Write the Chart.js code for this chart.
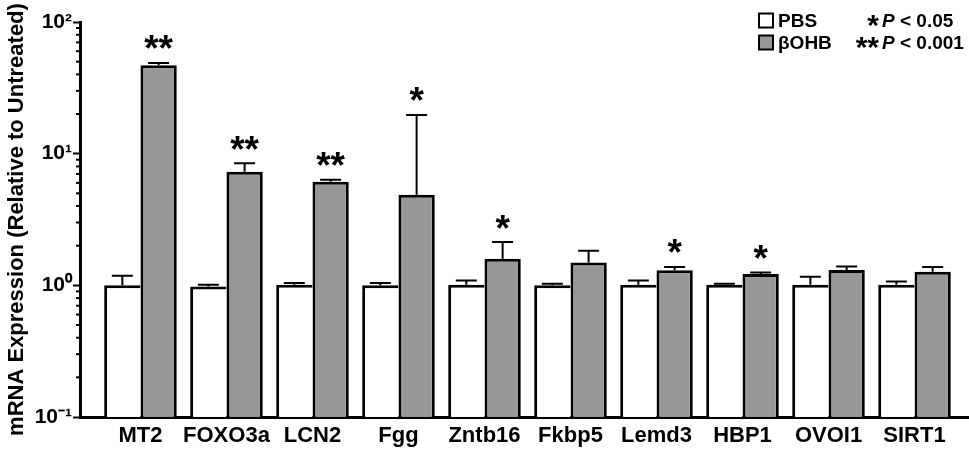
<!DOCTYPE html>
<html>
<head>
<meta charset="utf-8">
<script src="https://cdn.jsdelivr.net/npm/chart.js@4/dist/chart.umd.min.js"></script>
<style>
  html, body { margin: 0; padding: 0; background: #fff; }
  #wrap { width: 969px; height: 455px; position: relative; }
</style>
</head>
<body>
<div id="wrap"><canvas id="c"></canvas></div>
<script>
// ---- data ----
const categories = ['MT2', 'FOXO3a', 'LCN2', 'Fgg', 'Zntb16', 'Fkbp5', 'Lemd3', 'HBP1', 'OVOI1', 'SIRT1'];
const pbsMean   = [1.00, 0.98, 1.01, 1.00, 1.01, 1.00, 1.01, 1.01, 1.01, 1.01];
const pbsUpper  = [1.18, 1.01, 1.04, 1.04, 1.09, 1.03, 1.09, 1.03, 1.16, 1.07];
const ohbMean   = [46.9, 7.30, 6.12, 4.88, 1.59, 1.49, 1.30, 1.22, 1.31, 1.27];
const ohbUpper  = [48.9, 8.44, 6.35, 19.7, 2.13, 1.83, 1.38, 1.25, 1.39, 1.38];
const significance = ['**', '**', '**', '*', '*', '', '*', '*', '', ''];
const yTickValues = [0.1, 1, 10, 100];
const yTickLabels = ['10\u207B\u00B9', '10\u2070', '10\u00B9', '10\u00B2'];
const seriesNames = ['PBS', '\u03B2OHB'];
const legendNotes = [['*', ' < 0.05'], ['**', ' < 0.001']];

const FONT = '"Liberation Sans", Arial, Helvetica, sans-serif';
const GRAY = '#979797';

const pts = arr => arr.map((v, i) => ({ x: i, y: v }));

function starOffset(ctx) {
  const m = ctx.measureText('*');
  return (m.actualBoundingBoxAscent - m.actualBoundingBoxDescent) / 2;
}

const errorBars = {
  id: 'errorBars',
  afterDatasetsDraw(chart) {
    const ctx = chart.ctx;
    const ys = chart.scales.y;
    const uppers = [pbsUpper, ohbUpper];
    ctx.save();
    ctx.strokeStyle = '#000';
    ctx.lineWidth = 2;
    chart.data.datasets.forEach((ds, di) => {
      const meta = chart.getDatasetMeta(di);
      meta.data.forEach((el, i) => {
        const yTop = ys.getPixelForValue(uppers[di][i]);
        ctx.beginPath();
        ctx.moveTo(el.x, el.y);
        ctx.lineTo(el.x, yTop);
        ctx.moveTo(el.x - 10.5, yTop);
        ctx.lineTo(el.x + 10.5, yTop);
        ctx.stroke();
      });
    });
    // significance stars
    const meta = chart.getDatasetMeta(1);
    ctx.fillStyle = '#000';
    ctx.font = 'bold 37px ' + FONT;
    ctx.textAlign = 'center';
    ctx.textBaseline = 'alphabetic';
    const off = starOffset(ctx);
    meta.data.forEach((el, i) => {
      if (!significance[i]) return;
      const cy = ys.getPixelForValue(ohbUpper[i]) - 20.5;
      ctx.fillText(significance[i], el.x, cy + off);
    });
    ctx.restore();
  }
};

const minorTicks = {
  id: 'minorTicks',
  afterDraw(chart) {
    const ys = chart.scales.y;
    const ctx = chart.ctx;
    ctx.save();
    ctx.strokeStyle = '#000';
    ctx.lineWidth = 2;
    for (let k = -1; k <= 1; k++) {
      for (let d = 2; d <= 9; d++) {
        const y = ys.getPixelForValue(d * Math.pow(10, k));
        ctx.beginPath();
        ctx.moveTo(ys.right - 4, y);
        ctx.lineTo(ys.right, y);
        ctx.stroke();
      }
    }
    ctx.restore();
  }
};

const legendPlugin = {
  id: 'customLegend',
  afterDraw(chart) {
    const ctx = chart.ctx;
    ctx.save();
    const fills = ['#fff', GRAY];
    const rows = [20.5, 42.5];
    rows.forEach((cy, r) => {
      ctx.fillStyle = fills[r];
      ctx.fillRect(759, cy - 7, 14, 14);
      ctx.strokeStyle = '#000';
      ctx.lineWidth = 2;
      ctx.strokeRect(759, cy - 7, 14, 14);
      ctx.fillStyle = '#000';
      ctx.textBaseline = 'alphabetic';
      ctx.textAlign = 'left';
      const base = cy + 6.8;
      ctx.font = 'bold 19px ' + FONT;
      ctx.fillText(seriesNames[r], 778, base);
      ctx.textAlign = 'right';
      ctx.font = 'bold 30px ' + FONT;
      const off = starOffset(ctx);
      ctx.fillText(legendNotes[r][0], 879, cy + off);
      ctx.textAlign = 'left';
      ctx.font = 'italic bold 19px ' + FONT;
      ctx.fillText('P', 882, base);
      const pw = ctx.measureText('P').width;
      ctx.font = 'bold 19px ' + FONT;
      ctx.fillText(legendNotes[r][1], 882 + pw, base);
    });
    ctx.restore();
  }
};

new Chart(document.getElementById('c'), {
  type: 'bar',
  data: {
    datasets: [
      {
        label: seriesNames[0],
        data: pts(pbsMean),
        backgroundColor: '#fff',
        borderColor: '#000',
        borderWidth: { top: 3, left: 3, right: 0, bottom: 0 },
        borderSkipped: false
      },
      {
        label: seriesNames[1],
        data: pts(ohbMean),
        backgroundColor: GRAY,
        borderColor: '#000',
        borderWidth: { top: 3, left: 3, right: 3, bottom: 0 },
        borderSkipped: false
      }
    ]
  },
  options: {
    responsive: true,
    maintainAspectRatio: false,
    animation: false,
    devicePixelRatio: 1,
    categoryPercentage: 0.844,
    barPercentage: 1,
    layout: { padding: { top: 22, right: 1, bottom: 0, left: 0 } },
    plugins: { legend: { display: false }, tooltip: { enabled: false } },
    scales: {
      x: {
        type: 'linear',
        offset: false,
        bounds: 'data',
        min: -0.703,
        max: 9.622,
        afterBuildTicks: s => { s.ticks = categories.map((c, i) => ({ value: i })); },
        afterFit: s => { s.height = 38; },
        grid: { display: false, drawTicks: false },
        border: { display: true, color: '#000', width: 3 },
        ticks: {
          autoSkip: false,
          maxRotation: 0,
          padding: 6,
          color: '#000',
          font: { family: FONT, size: 22, weight: 'bold' },
          callback: v => categories[v]
        }
      },
      y: {
        type: 'logarithmic',
        min: 0.1,
        max: 100,
        afterBuildTicks: s => { s.ticks = yTickValues.map(v => ({ value: v, major: true })); },
        afterFit: s => { s.width = 80; },
        grid: { drawOnChartArea: false, drawTicks: true, tickLength: 7, tickWidth: 2, tickColor: '#000' },
        border: { display: true, color: '#000', width: 3 },
        ticks: {
          autoSkip: false,
          padding: 1,
          color: '#000',
          font: { family: FONT, size: 21, weight: 'bold' },
          callback: v => { const i = yTickValues.indexOf(v); return i >= 0 ? yTickLabels[i] : ''; }
        },
        title: {
          display: true,
          text: 'mRNA Expression (Relative to Untreated)',
          color: '#000',
          font: { family: FONT, size: 22, weight: 'bold' },
          padding: { top: 4, bottom: 0 }
        }
      }
    }
  },
  plugins: [errorBars, minorTicks, legendPlugin]
});
</script>
</body>
</html>
